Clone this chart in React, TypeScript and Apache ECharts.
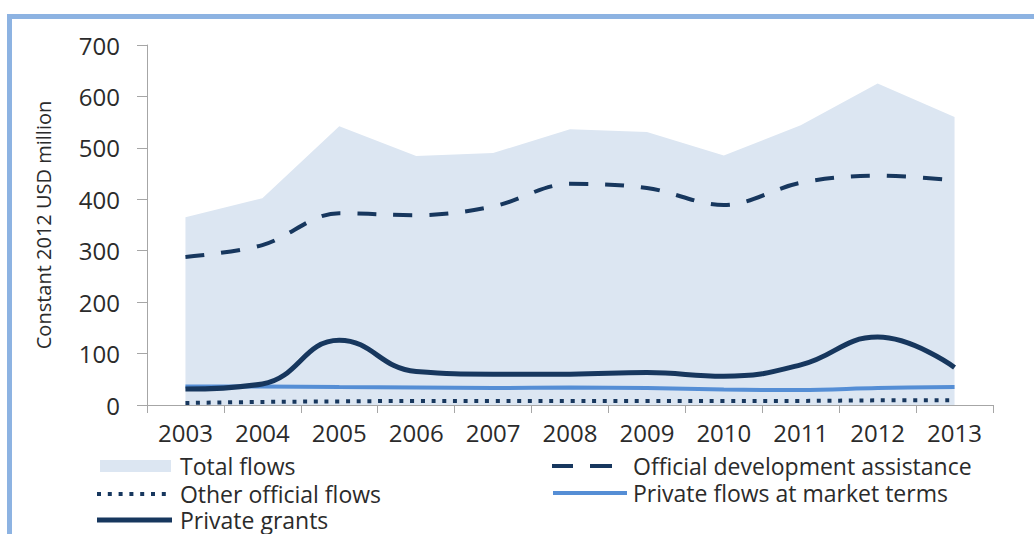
import React, { useEffect, useRef } from "react";
import * as echarts from "echarts";

const years = ["2003", "2004", "2005", "2006", "2007", "2008", "2009", "2010", "2011", "2012", "2013"];
const totalFlows = [365, 402, 542, 484, 490, 536, 531, 485, 544, 625, 560];
const oda = [288, 311, 373, 369, 386, 430, 422, 389, 432, 446, 437];
const otherOfficial = [4, 6, 7, 8, 8, 8, 8, 8, 8, 9, 9];
const privateMarket = [36, 36, 35, 34, 33, 34, 33, 30, 29, 33, 35];
const privateGrants = [31, 41, 126, 65, 60, 60, 63, 56, 78, 132, 73];
const yTicks = { min: 0, max: 700, interval: 100 };

const FONT = "'Open Sans', sans-serif";
const TXT = "#2b2b2b";
const NAVY = "#17375e";
const MID = "#558ed5";
const AREA = "#dce6f2";

function dotsPath(n: number, step: number, size: number) {
  let d = "";
  for (let i = 0; i < n; i++) {
    const x = i * step;
    d += `M${x},0h${size}v${size}h-${size}z`;
  }
  return "path://" + d;
}

export default function App() {
  const ref = useRef<HTMLDivElement>(null);
  useEffect(() => {
    document.body.style.margin = "0";
    const chart = echarts.init(ref.current!, undefined, { renderer: "svg" });
    const LH = 23;
    const lg = (name: string, left: number, rowCenter: number, icon: string, w: number, h: number, pad: number) => ({
      orient: "horizontal" as const,
      left,
      top: rowCenter - LH / 2,
      padding: 0,
      itemWidth: w,
      itemHeight: h,
      selectedMode: false,
      data: [{ name, icon }],
      textStyle: { fontFamily: FONT, fontSize: 23, color: TXT, lineHeight: LH, padding: [0, 0, 0, pad] },
    });
    chart.setOption({
      animation: false,
      backgroundColor: "#ffffff",
      textStyle: { fontFamily: FONT },
      grid: { left: 147, right: 41, top: 45, bottom: 129 },
      graphic: [
        { type: "rect", shape: { x: 7, y: 14, width: 1027, height: 5 }, style: { fill: "#8db3e2" }, silent: true },
        { type: "rect", shape: { x: 7, y: 14, width: 5, height: 520 }, style: { fill: "#8db3e2" }, silent: true },
      ],
      legend: [
        lg("Total flows", 100, 466, "rect", 71, 12, 4),
        lg("Other official flows", 97, 494, dotsPath(7, 10.8, 4), 69, 4, 9),
        lg("Private grants", 97, 520, "path://M0,0H75V5H0Z", 75, 5, 3),
        lg("Official development assistance", 552, 466, "path://M0,0h21v4h-21zM38,0h22v4h-22z", 60, 4, 16),
        lg("Private flows at market terms", 553, 493, "path://M0,0H74V4H0Z", 74, 4, 1),
      ],
      xAxis: {
        type: "category",
        data: years,
        boundaryGap: true,
        axisLine: { show: true, lineStyle: { color: "#a6a6a6", width: 1 } },
        axisTick: { show: true, length: 8, lineStyle: { color: "#a6a6a6" } },
        axisLabel: { fontFamily: FONT, fontSize: 24, color: TXT, margin: 15 },
        splitLine: { show: false },
      },
      yAxis: {
        type: "value",
        min: yTicks.min,
        max: yTicks.max,
        interval: yTicks.interval,
        name: "Constant 2012 USD million",
        nameLocation: "middle",
        nameRotate: 90,
        nameGap: 94,
        nameTextStyle: { fontFamily: FONT, fontSize: 20, color: TXT },
        axisLine: { show: true, lineStyle: { color: "#a6a6a6", width: 1 } },
        axisTick: { show: true, length: 10, lineStyle: { color: "#a6a6a6" } },
        axisLabel: { fontFamily: FONT, fontSize: 24, color: TXT, margin: 27 },
        splitLine: { show: false },
      },
      series: [
        {
          name: "Total flows",
          type: "line",
          data: totalFlows,
          symbol: "none",
          itemStyle: { color: AREA },
          lineStyle: { width: 0, color: AREA },
          areaStyle: { color: AREA, opacity: 1 },
          z: 1,
        },
        {
          name: "Official development assistance",
          type: "line",
          data: oda,
          symbol: "none",
          smooth: 0.35,
          itemStyle: { color: NAVY },
          lineStyle: { width: 4, color: NAVY, type: [19, 17] },
          z: 3,
        },
        {
          name: "Other official flows",
          type: "line",
          data: otherOfficial,
          symbol: "none",
          smooth: 0.35,
          itemStyle: { color: NAVY },
          lineStyle: { width: 4, color: NAVY, type: [4, 6.7] },
          z: 3,
        },
        {
          name: "Private flows at market terms",
          type: "line",
          data: privateMarket,
          symbol: "none",
          smooth: 0.35,
          itemStyle: { color: MID },
          lineStyle: { width: 4, color: MID },
          z: 3,
        },
        {
          name: "Private grants",
          type: "line",
          data: privateGrants,
          symbol: "none",
          smooth: 0.45,
          itemStyle: { color: NAVY },
          lineStyle: { width: 5, color: NAVY },
          z: 4,
        },
      ],
    });
    return () => chart.dispose();
  }, []);
  return <div ref={ref} style={{ position: "fixed", left: 0, top: 0, width: 1034, height: 534 }} />;
}
